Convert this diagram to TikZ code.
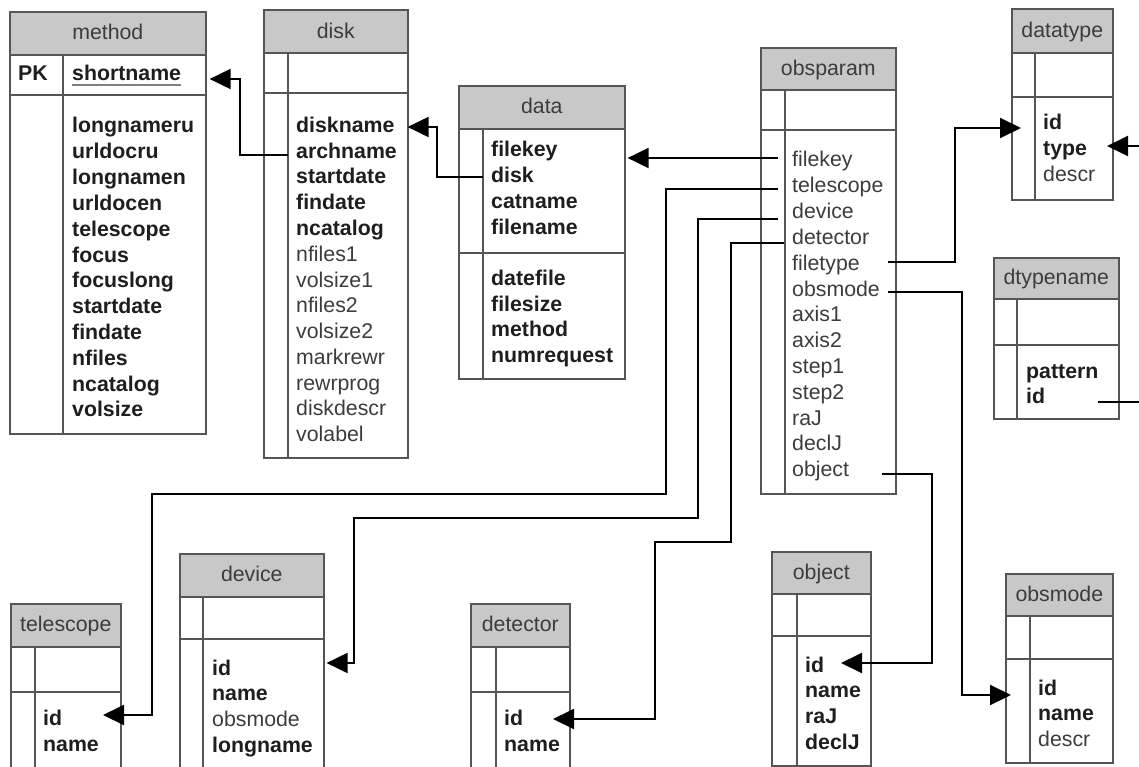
\documentclass[tikz,border=0pt]{standalone}
\usepackage{fontspec}
\setmainfont{Liberation Sans}
\usetikzlibrary{arrows.meta,calc}
\definecolor{bordercol}{RGB}{85,85,85}
\definecolor{hdrfill}{RGB}{200,200,200}
\definecolor{txtcol}{RGB}{30,30,30}
\definecolor{regcol}{RGB}{60,60,60}
\tikzset{
  tblbox/.style={draw=bordercol, line width=1.6pt, inner sep=0pt, anchor=north west},
  hdr/.style={draw=bordercol, fill=hdrfill, line width=1.6pt, inner sep=0pt, anchor=north west,
    font=\fontsize{21.3}{25}\selectfont, text=regcol, text height=16pt, text depth=3pt},
  tline/.style={draw=bordercol, line width=1.6pt},
  fb/.style={anchor=base west, inner sep=0pt, font=\fontsize{21.3}{25}\selectfont\bfseries, text=txtcol},
  fr/.style={anchor=base west, inner sep=0pt, font=\fontsize{21.3}{25}\selectfont, text=regcol},
  conn/.style={line width=2pt, black, -{Triangle[length=21pt,width=20pt]}},
  link/.style={line width=2pt, black},
}
\newcommand\erdtable[9]{%
  \node[tblbox, minimum width={(#4-#3)*1pt}, minimum height={(#8-#5)*1pt}] (#1) at (#3,#5) {};
  \node[hdr, minimum width={(#4-#3)*1pt}, minimum height={(#6-#5)*1pt}] (#1-h) at (#3,#5) {#2};
  \draw[tline] (#3,#7) -- (#4,#7);
  \draw[tline] (#9,#6) -- (#9,#8);
}
\begin{document}
\begin{tikzpicture}[x=1pt,y=-1pt]
\useasboundingbox (0,0) rectangle (1139,767);
\fill[white] (0,0) rectangle (1139,767);
\clip (0,0) rectangle (1139,767);

% tables: name, title, left, right, top, header bottom, section bottom, bottom, divider
\erdtable{method}{method}{9}{205}{11}{54}{95}{433}{63}
\erdtable{disk}{disk}{263}{407}{9.5}{52}{93}{457}{288}
\erdtable{data}{data}{458}{624}{85}{128}{253}{378}{483}
\erdtable{obsparam}{obsparam}{760}{895}{47}{89}{130}{493}{785}
\erdtable{datatype}{datatype}{1011}{1112}{8}{52}{97}{199}{1035}
\erdtable{dtypename}{dtypename}{993}{1118}{257}{298}{345}{418}{1017}
\erdtable{telescope}{telescope}{10}{120}{603}{646}{692}{790}{35}
\erdtable{device}{device}{179}{323}{553}{596}{639}{790}{203}
\erdtable{detector}{detector}{470}{569}{603}{646}{692}{790}{496}
\erdtable{object}{object}{771}{870}{551}{593}{636}{765}{797}
\erdtable{obsmode}{obsmode}{1005}{1112}{573}{615}{659}{762}{1030}

% method
\node[fb] (me-pk) at (18,81) {PK};
\node[fb] (me-shortname) at (72,81) {shortname};
\draw[line width=1.4pt, color=gray] ($(me-shortname.base west)+(0,4)$) -- ($(me-shortname.base east)+(0,4)$);
\foreach \t [count=\i from 0] in {longnameru,urldocru,longnamen,urldocen,telescope,focus,focuslong,startdate,findate,nfiles,ncatalog,volsize}
  \node[fb] (me-\t) at (72,{133+25.8*\i}) {\t};

% disk
\foreach \t [count=\i from 0] in {diskname,archname,startdate,findate,ncatalog}
  \node[fb] (dk-\t) at (296,{132.5+25.75*\i}) {\t};
\foreach \t [count=\i from 5] in {nfiles1,volsize1,nfiles2,volsize2,markrewr,rewrprog,diskdescr,volabel}
  \node[fr] (dk-\t) at (296,{132.5+25.75*\i}) {\t};

% data
\foreach \t [count=\i from 0] in {filekey,disk,catname,filename}
  \node[fb] (da-\t) at (491,{157+25.7*\i}) {\t};
\foreach \t [count=\i from 0] in {datefile,filesize,method,numrequest}
  \node[fb] (da-\t) at (491,{285.5+25.7*\i}) {\t};

% obsparam
\foreach \t [count=\i from 0] in {filekey,telescope,device,detector,filetype,obsmode,axis1,axis2,step1,step2,raJ,declJ,object}
  \node[fr] (op-\t) at (792,{167+25.8*\i}) {\t};

% datatype
\node[fb] (dt-id) at (1043,130) {id};
\node[fb] (dt-type) at (1043,155.6) {type};
\node[fr] (dt-descr) at (1043,181.2) {descr};

% dtypename
\node[fb] (dn-pattern) at (1026,378) {pattern};
\node[fb] (dn-id) at (1026,403) {id};

% telescope
\node[fb] (te-id) at (43,725) {id};
\node[fb] (te-name) at (43,751) {name};

% device
\node[fb] (dv-id) at (212,675) {id};
\node[fb] (dv-name) at (212,700.7) {name};
\node[fr] (dv-obsmode) at (212,726.7) {obsmode};
\node[fb] (dv-longname) at (212,752.7) {longname};

% detector
\node[fb] (de-id) at (504,725) {id};
\node[fb] (de-name) at (504,751) {name};

% object
\node[fb] (ob-id) at (805,672) {id};
\node[fb] (ob-name) at (805,697.7) {name};
\node[fb] (ob-raJ) at (805,723.4) {raJ};
\node[fb] (ob-declJ) at (805,749) {declJ};

% obsmode
\node[fb] (om-id) at (1038,695) {id};
\node[fb] (om-name) at (1038,720.7) {name};
\node[fr] (om-descr) at (1038,746.4) {descr};

% connectors
\draw[conn] ($(dk-archname.base west)+(-8,-3)$) -- ++(-48,0) |- ($(me-shortname.base -| method.east)+(3,-2)$);
\draw[conn] ($(da-disk.base west)+(-8,-5.7)$) -- ++(-46,0) |- ($(dk-diskname.base -| disk.east)+(-1,-5.5)$);
\draw[conn] ($(op-filekey.base west)+(-14,-9)$) -- ($(da-filekey.base -| data.east)+(2,1)$);
\draw[conn] ($(op-telescope.base west)+(-14,-4)$) -| (666,494) -| (152,715) -- ($(te-id.base west)+(60,-10)$);
\draw[conn] ($(op-device.base west)+(-14,0.5)$) -| (698,518) -| (354,663) -- ($(dv-id.base -| device.east)+(2,-12)$);
\draw[conn] ($(op-detector.base west)+(-8,-1.4)$) -| (731,542) -| (655,719) -- ($(de-id.base west)+(49,-6)$);
\draw[conn] ($(op-filetype.base west)+(96,-8.5)$) -| (955,128) -- ($(dt-id.base west)+(-22,-2)$);
\draw[conn] ($(op-obsmode.base west)+(96,-4)$) -| (962,695) -- ($(om-id.base west)+(-27,0)$);
\draw[conn] ($(op-object.base west)+(90,-2.6)$) -| (932,663) -- ($(ob-id.base west)+(36,-9)$);
\coordinate (offA) at (1150,402);
\coordinate (offB) at (1150,146);
\draw[link] ($(dn-id.base west)+(72,-1)$) -- (offA);
\draw[conn] (offB) -- ($(dt-type.base west)+(64,-9.6)$);
\end{tikzpicture}
\end{document}
